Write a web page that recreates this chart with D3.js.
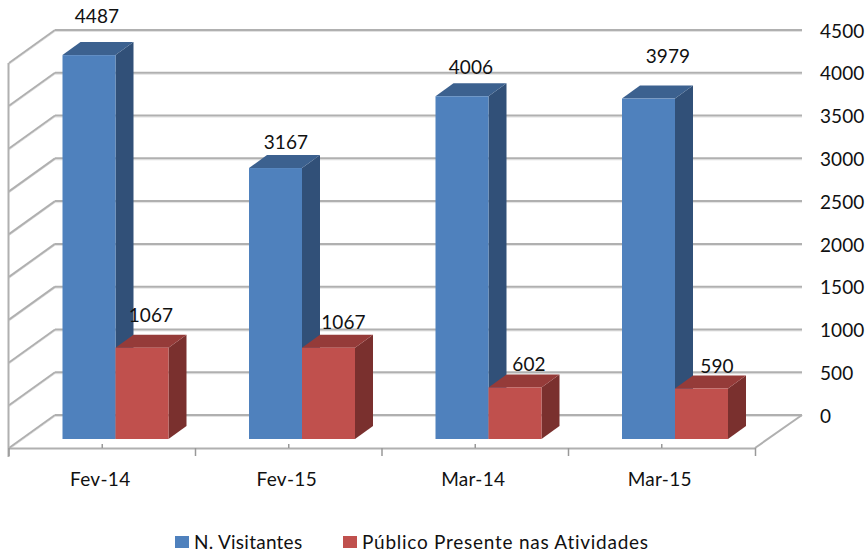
<!DOCTYPE html>
<html><head><meta charset="utf-8">
<script src="https://cdn.jsdelivr.net/npm/d3@7/dist/d3.min.js"></script>
<style>html,body{margin:0;background:#fff}svg{display:block}text{font-family:Lato,"Open Sans",sans-serif;fill:#111}</style>
</head><body><svg id="c" width="866" height="554"></svg>
<script>
const categories=["Fev-14","Fev-15","Mar-14","Mar-15"];
const seriesNames=["N. Visitantes","Público Presente nas Atividades"];
const visitantes=[4487,3167,4006,3979];
const publico=[1067,1067,602,590];
const yTicks=[0,500,1000,1500,2000,2500,3000,3500,4000,4500];
const colors=[{f:"#4f81bd",s:"#315078",t:"#3c618f"},{f:"#c0504d",s:"#7a302e",t:"#953b39"}];

const svg=d3.select("#c");
const y=d3.scaleLinear().domain([0,4500]).range([415,30]);
const x=d3.scaleBand().domain(categories).range([9,755]);
const floorDx=46,floorDy=-33,barDx=18,barDy=-13,barBaseY=439,barW=53;
const grid="#b0b0b0",gridSoft="#e2e2e2";
const line=(a,b,c,d,col=grid,w=2)=>svg.append("line").attr("x1",a).attr("y1",b).attr("x2",c).attr("y2",d).attr("stroke",col).attr("stroke-width",w);

// label nudges relative to each bar's top centre
const visOff=[[8,-39],[10.5,-26],[9,-29],[19.5,-42]];
const pubOff=[[9,-32],[15,-25],[14,-23.5],[15.5,-22.5]];

// walls
yTicks.forEach(t=>{
  const yy=y(t);
  line(9,yy-floorDy+1.5,9+floorDx,yy+1.5,gridSoft,1);
  line(9+floorDx,yy+1.5,802,yy+1.5,gridSoft,1);
  line(9,yy-floorDy,9+floorDx,yy);
  line(9+floorDx,yy,802,yy);
  svg.append("text").attr("x",820).attr("y",yy+1).attr("dy","0.35em").attr("font-size",19).attr("letter-spacing",0.1).text(t);
});
line(755,448,802,415);
line(8.5,y(4500)-floorDy,8.5,457);
line(9,448.5,755.5,448.5);
x.domain().forEach(c=>{
  line(x(c),448,x(c),456,"#999",1.5);
  line(x(c)+x.bandwidth()/2,444,x(c)+x.bandwidth()/2,448,"#999",1.5);
  svg.append("text").attr("x",x(c)+x.bandwidth()/2-2).attr("y",479).attr("dy","0.35em").attr("text-anchor","middle").attr("font-size",19).attr("letter-spacing",0.3).text(c);
});
line(755.5,448,755.5,456,"#999",1.5);

// bars
const yLen=v=>y(0)-y(v);
const poly=(pts,col)=>svg.append("polygon").attr("points",pts.map(p=>p.join(",")).join(" ")).attr("fill",col);
function bar(x0,v,col){
  const top=barBaseY-yLen(v);
  poly([[x0+barW,barBaseY],[x0+barW+barDx,barBaseY+barDy],[x0+barW+barDx,top+barDy],[x0+barW,top]],col.s);
  poly([[x0,top],[x0+barDx,top+barDy],[x0+barW+barDx,top+barDy],[x0+barW,top]],col.t);
  svg.append("rect").attr("x",x0).attr("y",top).attr("width",barW).attr("height",barBaseY-top).attr("fill",col.f);
}
const labels=[];
categories.forEach((c,i)=>{
  const x0=x(c)+53.5;
  bar(x0,visitantes[i],colors[0]);
  bar(x0+barW,publico[i],colors[1]);
  labels.push([x0+barW/2+visOff[i][0],barBaseY-yLen(visitantes[i])+visOff[i][1],visitantes[i]]);
  labels.push([x0+barW*1.5+pubOff[i][0],barBaseY-yLen(publico[i])+pubOff[i][1],publico[i]]);
});
labels.forEach(l=>svg.append("text").attr("x",l[0]).attr("y",l[1]).attr("dy","0.35em").attr("text-anchor","middle").attr("font-size",19).attr("letter-spacing",0.1).text(l[2]));

// legend
const lg=[[175,194,0.25],[343,362,0.74]];
seriesNames.forEach((n,i)=>{
  svg.append("rect").attr("x",lg[i][0]).attr("y",536).attr("width",14).attr("height",12).attr("fill",colors[i].f);
  svg.append("text").attr("x",lg[i][1]).attr("y",542).attr("dy","0.35em").attr("font-size",19).attr("letter-spacing",lg[i][2]).text(n);
});
</script></body></html>
